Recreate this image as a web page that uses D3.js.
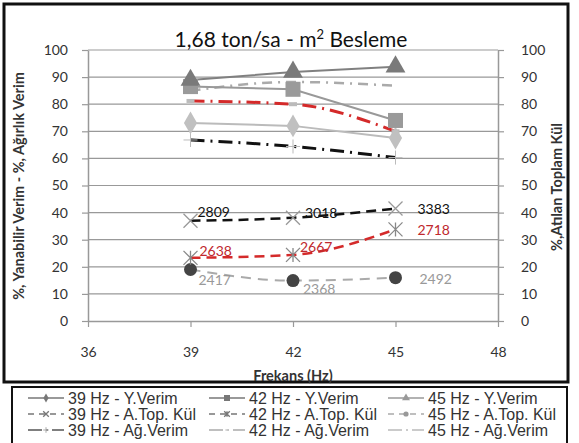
<!DOCTYPE html>
<html><head><meta charset="utf-8">
<script src="https://cdn.jsdelivr.net/npm/d3@7"></script>
<style>body{margin:0;background:#fff}svg{display:block}text{font-family:Lato,"Open Sans",sans-serif}</style>
</head><body><svg id="c" width="579" height="443"></svg>
<script>
const freqs = [39, 42, 45];
const xTicks = [36, 39, 42, 45, 48];
const yTicks = [0,10,20,30,40,50,60,70,80,90,100];

const yVerim39 = [73.1, 72.0, 67.5];
const yVerim42 = [86.5, 85.5, 74.0];
const yVerim45 = [88.9, 91.9, 93.8];

const kul39 = [37.0, 38.1, 41.5];
const kul42 = [23.3, 24.4, 33.8];
const kul45 = [19.0, 14.9, 16.0];
const kulLabels39 = ["2809", "3018", "3383"];
const kulLabels42 = ["2638", "2667", "2718"];
const kulLabels45 = ["2417", "2368", "2492"];

const agVerim39 = [66.8, 64.4, 60.3];
const agVerim42 = [81.2, 80.0, 70.0];
const agVerim45 = [85.0, 88.2, 86.8];

const legendNames = [
  "39 Hz - Y.Verim","42 Hz - Y.Verim","45 Hz - Y.Verim",
  "39 Hz - A.Top.  Kül","42 Hz - A.Top.  Kül","45 Hz - A.Top.  Kül",
  "39 Hz - Ağ.Verim","42 Hz - Ağ.Verim","45 Hz - Ağ.Verim"
];

const svg = d3.select("#c");
const x = d3.scaleLinear().domain([36,48]).range([88,498]);
const y = d3.scaleLinear().domain([0,100]).range([321,50]);

// frames
svg.append("rect").attr("x",4).attr("y",4).attr("width",564).attr("height",378)
  .attr("fill","none").attr("stroke","#111").attr("stroke-width",3);
svg.append("rect").attr("x",12).attr("y",387).attr("width",555).attr("height",60)
  .attr("fill","none").attr("stroke","#111").attr("stroke-width",2);

// gridlines
svg.append("g").selectAll("line").data(yTicks.filter(d=>d>0)).join("line")
  .attr("x1",88).attr("x2",498).attr("y1",d=>y(d)).attr("y2",d=>y(d))
  .attr("stroke","#999").attr("stroke-width",1.2);

// axes
const axStyle = g => {
  g.select(".domain").attr("stroke","#999").attr("stroke-width",1.5);
  g.selectAll(".tick line").attr("stroke","#999").attr("stroke-width",1.2);
  g.selectAll(".tick text").attr("fill","#333").style("font-size","14px").style("font-family","Lato,sans-serif");
};
svg.append("g").attr("transform","translate(88,0)")
  .call(d3.axisLeft(y).tickValues(yTicks).tickSize(6).tickPadding(14).tickSizeOuter(0)).call(axStyle);
svg.append("g").attr("transform","translate(498,0)")
  .call(d3.axisRight(y).tickValues(yTicks).tickSize(6).tickPadding(17).tickSizeOuter(0)).call(axStyle);
svg.append("g").attr("transform","translate(0,321)")
  .call(d3.axisBottom(x).tickValues(xTicks).tickSize(6).tickPadding(20).tickSizeOuter(0)).call(axStyle);

// titles
const title = svg.append("text").attr("x",291).attr("y",47).attr("text-anchor","middle")
  .style("font-size","21px").attr("fill","#111");
title.append("tspan").text("1,68 ton/sa - m");
title.append("tspan").attr("dy",-8).style("font-size","13px").text("2");
title.append("tspan").attr("dy",8).text(" Besleme");

svg.append("text").attr("transform","translate(24,186) rotate(-90)").attr("text-anchor","middle")
  .style("font-size","14.5px").style("font-weight","bold").attr("fill","#333")
  .text("%, Yanabilir Verim - %, Ağırlık Verim");
svg.append("text").attr("transform","translate(562,187) rotate(-90)").attr("text-anchor","middle")
  .style("font-size","14.5px").style("font-weight","bold").attr("fill","#333")
  .text("%,Atılan Toplam Kül");
svg.append("text").attr("x",293).attr("y",381).attr("text-anchor","middle")
  .style("font-size","14.5px").style("font-weight","bold").attr("fill","#333").text("Frekans (Hz)");

const lineStraight = d3.line().x((d,i)=>x(freqs[i])).y(d=>y(d));
const lineSmooth = d3.line().x((d,i)=>x(freqs[i])).y(d=>y(d)).curve(d3.curveMonotoneX);

const series = [
  {vals:agVerim45, color:"#aaa", dash:"10,6,2,6", w:2.5, smooth:true, marker:"none"},
  {vals:agVerim42, color:"#d42a2a", dash:"14,6,2,6", w:3, smooth:true, marker:"dash", mcolor:"#bbb"},
  {vals:agVerim39, color:"#111", dash:"14,6,2,6", w:3, smooth:true, marker:"plus", mcolor:"#bbb"},
  {vals:yVerim39, color:"#bbb", dash:null, w:2, smooth:false, marker:"diamond", mcolor:"#c0c0c0"},
  {vals:yVerim42, color:"#999", dash:null, w:2, smooth:false, marker:"square", mcolor:"#9a9a9a"},
  {vals:yVerim45, color:"#808080", dash:null, w:2, smooth:false, marker:"triangle", mcolor:"#7a7a7a"},
  {vals:kul45, color:"#aaa", dash:"10,7", w:2, smooth:true, marker:"circle", mcolor:"#444"},
  {vals:kul42, color:"#d42a2a", dash:"10,6", w:2.5, smooth:true, marker:"asterisk", mcolor:"#888"},
  {vals:kul39, color:"#111", dash:"10,6", w:2.5, smooth:true, marker:"x", mcolor:"#999"}
];

function drawMarker(g, type, cx, cy, col, s) {
  s = s || 1;
  if (type==="diamond") g.append("path").attr("d",d3.symbol(d3.symbolDiamond, 150*s*s)()).attr("transform",`translate(${cx},${cy})`).attr("fill",col);
  else if (type==="square") g.append("rect").attr("x",cx-7.5*s).attr("y",cy-7.5*s).attr("width",15*s).attr("height",15*s).attr("fill",col);
  else if (type==="triangle") g.append("path").attr("d",d3.symbol(d3.symbolTriangle, 170*s*s)()).attr("transform",`translate(${cx},${cy})`).attr("fill",col);
  else if (type==="circle") g.append("circle").attr("cx",cx).attr("cy",cy).attr("r",6.5*s).attr("fill",col);
  else if (type==="x") { const r=7*s; g.append("path").attr("d",`M${cx-r},${cy-r}L${cx+r},${cy+r}M${cx-r},${cy+r}L${cx+r},${cy-r}`).attr("stroke",col).attr("stroke-width",1.3); }
  else if (type==="asterisk") { const r=7*s; g.append("path").attr("d",`M${cx-r},${cy-r}L${cx+r},${cy+r}M${cx-r},${cy+r}L${cx+r},${cy-r}M${cx},${cy-r}L${cx},${cy+r}`).attr("stroke",col).attr("stroke-width",1.3); }
  else if (type==="plus") { const r=7*s; g.append("path").attr("d",`M${cx-r},${cy}L${cx+r},${cy}M${cx},${cy-r}L${cx},${cy+r}`).attr("stroke",col).attr("stroke-width",1); }
  else if (type==="dash") { g.append("rect").attr("x",cx-4*s).attr("y",cy-2*s).attr("width",8*s).attr("height",4*s).attr("fill",col); }
}

const plot = svg.append("g");
series.forEach(s => {
  plot.append("path").attr("d",(s.smooth?lineSmooth:lineStraight)(s.vals))
    .attr("fill","none").attr("stroke",s.color).attr("stroke-width",s.w)
    .attr("stroke-dasharray",s.dash);
});
series.forEach(s => {
  s.vals.forEach((v,i) => drawMarker(plot, s.marker, x(freqs[i]), y(v), s.mcolor));
});

// data labels
const labelOffsets = {
  kul39:[[7,-9],[12,-5],[22,0.5]],
  kul42:[[9,-7],[7,-8],[22,0.5]],
  kul45:[[8,10.5],[10,8.5],[24,1.5]]
};
[[kul39,kulLabels39,"#111","kul39"],[kul42,kulLabels42,"#c0292e","kul42"],[kul45,kulLabels45,"#999","kul45"]].forEach(([vals,labs,col,key]) => {
  vals.forEach((v,i) => {
    const o = labelOffsets[key][i];
    plot.append("text").attr("x",x(freqs[i])+o[0]).attr("y",y(v)+o[1]).attr("dy","0.35em")
      .style("font-size","14px").attr("fill",col).text(labs[i]);
  });
});

// legend
const legendStyle = [
  {color:"#777", dash:null, marker:"diamond", mcolor:"#777"},
  {color:"#777", dash:null, marker:"square", mcolor:"#777"},
  {color:"#999", dash:null, marker:"triangle", mcolor:"#999"},
  {color:"#777", dash:"6,5", marker:"x", mcolor:"#777"},
  {color:"#777", dash:"6,5", marker:"asterisk", mcolor:"#777"},
  {color:"#aaa", dash:"6,5", marker:"circle", mcolor:"#999"},
  {color:"#555", dash:"14,4,2,4", marker:"plus", mcolor:"#aaa"},
  {color:"#aaa", dash:"14,4,2,4", marker:"dash", mcolor:"#ccc"},
  {color:"#bbb", dash:"14,4,2,4", marker:"none", mcolor:"#ccc"}
];
const colX = [28, 209, 388];
const rowY = [398, 414, 430];
const lg = svg.append("g");
legendNames.forEach((name, i) => {
  const c = i % 3, r = Math.floor(i / 3);
  const lx = colX[c], ly = rowY[r], st = legendStyle[i];
  lg.append("line").attr("x1",lx).attr("x2",lx+36).attr("y1",ly).attr("y2",ly)
    .attr("stroke",st.color).attr("stroke-width",1.5).attr("stroke-dasharray",st.dash);
  drawMarker(lg, st.marker, lx+18, ly, st.mcolor, 0.4);
  lg.append("text").attr("x",lx+40).attr("y",ly).attr("dy","0.36em")
    .style("font-family","'Liberation Sans',Arial,sans-serif").style("font-size","16px").attr("fill","#333")
    .text(name);
});
</script></body></html>
